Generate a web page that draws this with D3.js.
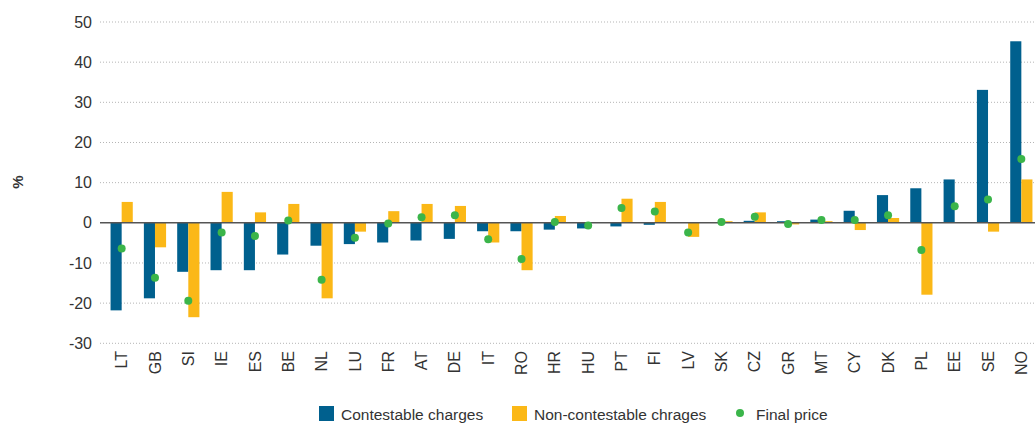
<!DOCTYPE html>
<html>
<head>
<meta charset="utf-8">
<script src="https://cdn.jsdelivr.net/npm/d3@7"></script>
<style>
  body { margin: 0; background: #fff; }
  text { font-family: "Liberation Sans", Arial, sans-serif; fill: #333; }
</style>
</head>
<body>
<div id="chart"></div>
<script>
// Countries, left to right
const countries = ['LT','GB','SI','IE','ES','BE','NL','LU','FR','AT','DE','IT','RO','HR','HU','PT','FI','LV','SK','CZ','GR','MT','CY','DK','PL','EE','SE','NO'];

// Change in % for each component
const contestable = [-21.8,-18.8,-12.2,-11.8,-11.8,-7.9,-5.7,-5.3,-4.9,-4.4,-4.0,-2.1,-2.1,-1.7,-1.4,-0.9,-0.5,0.0,0.0,0.5,0.4,0.8,3.0,6.9,8.6,10.8,33.1,45.2];
const nonContestable = [5.2,-6.1,-23.5,7.7,2.6,4.7,-18.8,-2.2,2.9,4.7,4.2,-4.9,-11.8,1.7,0.0,6.0,5.2,-3.5,0.4,2.6,-0.4,0.4,-1.8,1.2,-17.9,0.0,-2.2,10.8];
const finalPrice = [-6.4,-13.7,-19.4,-2.4,-3.3,0.6,-14.2,-3.7,-0.2,1.4,1.9,-4.1,-9.0,0.2,-0.7,3.7,2.8,-2.4,0.2,1.5,-0.3,0.7,0.7,1.9,-6.8,4.1,5.8,15.9];

const yTicks = [-30,-20,-10,0,10,20,30,40,50];
const seriesNames = ['Contestable charges','Non-contestable chrages','Final price'];

const width = 1035, height = 423;
const colors = { blue: '#00608e', yellow: '#fbb817', green: '#3bb54a' };

const svg = d3.select('#chart').append('svg')
    .attr('width', width)
    .attr('height', height);

// Scales
const x = d3.scaleBand()
    .domain(countries)
    .range([105, 1038])
    .padding(0);

const xSub = d3.scaleBand()
    .domain(['c', 'n'])
    .range([0, x.bandwidth()])
    .paddingInner(0)
    .paddingOuter(0.5);

const y = d3.scaleLinear()
    .domain([-30, 50])
    .range([343.3, 22]);

// Gridlines
svg.append('g')
    .selectAll('line')
    .data(yTicks.filter(d => d !== 0))
    .enter()
    .append('line')
    .attr('x1', 100)
    .attr('x2', width)
    .attr('y1', d => y(d))
    .attr('y2', d => y(d))
    .attr('stroke', '#b5b5b5')
    .attr('stroke-width', 1)
    .attr('stroke-dasharray', '1,2');

// Y axis labels (plain hyphen for negatives, as in the source)
const yAxis = svg.append('g')
    .attr('transform', 'translate(100,0)')
    .call(d3.axisLeft(y).tickValues(yTicks).tickSize(0).tickPadding(8).tickFormat(d => String(d)));
yAxis.select('.domain').remove();
yAxis.selectAll('text')
    .style('font-size', '16px')
    .style('font-family', '"Liberation Sans", Arial, sans-serif')
    .attr('fill', '#333');

// Axis title
svg.append('text')
    .attr('transform', 'translate(23,182) rotate(-90)')
    .attr('text-anchor', 'middle')
    .style('font-size', '15px')
    .style('font-weight', 'bold')
    .text('%');

// Bars
const rows = countries.map((c, i) => ({ c, v: [contestable[i], nonContestable[i]], f: finalPrice[i] }));

const groups = svg.append('g')
    .selectAll('g')
    .data(rows)
    .enter()
    .append('g')
    .attr('transform', d => `translate(${x(d.c)},0)`);

groups.selectAll('rect')
    .data(d => [{ k: 'c', v: d.v[0] }, { k: 'n', v: d.v[1] }])
    .enter()
    .append('rect')
    .attr('x', d => xSub(d.k))
    .attr('width', xSub.bandwidth())
    .attr('y', d => y(Math.max(0, d.v)))
    .attr('height', d => Math.abs(y(d.v) - y(0)))
    .attr('fill', d => d.k === 'c' ? colors.blue : colors.yellow);

// Zero line
svg.append('line')
    .attr('x1', 100)
    .attr('x2', width)
    .attr('y1', y(0))
    .attr('y2', y(0))
    .attr('stroke', '#555')
    .attr('stroke-width', 1.5);

// Final price dots
svg.append('g')
    .selectAll('circle')
    .data(rows)
    .enter()
    .append('circle')
    .attr('cx', d => x(d.c) + x.bandwidth() / 2)
    .attr('cy', d => y(d.f))
    .attr('r', 4)
    .attr('fill', colors.green);

// X axis labels (rotated)
const xAxis = svg.append('g')
    .attr('transform', 'translate(0,351)')
    .call(d3.axisBottom(x).tickSize(0).tickPadding(0));
xAxis.select('.domain').remove();
xAxis.selectAll('text')
    .attr('transform', 'rotate(-90)')
    .attr('x', 0)
    .attr('y', 0)
    .attr('dx', 0)
    .attr('dy', '0.35em')
    .attr('text-anchor', 'end')
    .style('font-size', '16px')
    .style('font-family', '"Liberation Sans", Arial, sans-serif')
    .attr('fill', '#333');

// Legend
const legend = svg.append('g');
const legendItems = [
    { name: seriesNames[0], type: 'rect', color: colors.blue, x: 319 },
    { name: seriesNames[1], type: 'rect', color: colors.yellow, x: 512 },
    { name: seriesNames[2], type: 'circle', color: colors.green, x: 733 }
];
legendItems.forEach(item => {
    if (item.type === 'rect') {
        legend.append('rect')
            .attr('x', item.x)
            .attr('y', 406)
            .attr('width', 15)
            .attr('height', 15)
            .attr('fill', item.color);
        legend.append('text')
            .attr('x', item.x + 22)
            .attr('y', 420)
            .style('font-size', '15.5px')
            .text(item.name);
    } else {
        legend.append('circle')
            .attr('cx', item.x + 7)
            .attr('cy', 413)
            .attr('r', 4)
            .attr('fill', item.color);
        legend.append('text')
            .attr('x', item.x + 23)
            .attr('y', 420)
            .style('font-size', '15.5px')
            .text(item.name);
    }
});
</script>
</body>
</html>
